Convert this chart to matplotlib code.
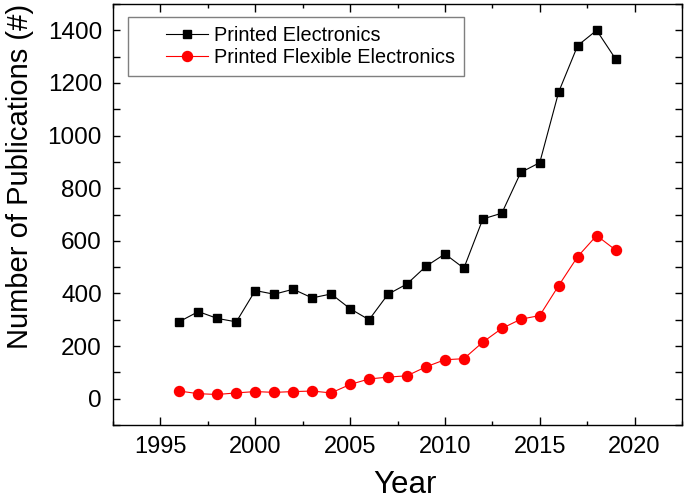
import matplotlib
matplotlib.use("Agg")
import matplotlib.pyplot as plt
from matplotlib.legend_handler import HandlerLine2D
from matplotlib.ticker import MultipleLocator

plt.rcParams["font.family"] = ["Liberation Sans", "DejaVu Sans"]

# ── Data ─────────────────────────────────────────────────────────
years = list(range(1996, 2020))
printed = [293, 331, 305, 292, 411, 397, 416, 383, 398, 342, 300, 397,
           436, 503, 550, 496, 683, 705, 860, 897, 1166, 1342, 1400, 1291]
flexible = [29, 19, 16, 22, 27, 24, 27, 29, 22, 54, 75, 82,
            87, 121, 148, 152, 215, 267, 302, 316, 430, 540, 620, 565]

fig = plt.figure(figsize=(6.85, 5.01), dpi=100, facecolor="white")
ax = fig.add_axes([0.165, 0.1517, 0.8306, 0.8403])

ax.plot(years, printed, "-s", color="black", lw=0.8, ms=6.2,
        label="Printed Electronics")
ax.plot(years, flexible, "-o", color="#FF0000", lw=0.8, ms=7.2,
        label="Printed Flexible Electronics")

ax.set_xlim(1992.5, 2022.5)
ax.set_ylim(-100, 1500)
ax.xaxis.set_major_locator(MultipleLocator(5))
ax.xaxis.set_minor_locator(MultipleLocator(2.5))
ax.yaxis.set_major_locator(MultipleLocator(200))
ax.yaxis.set_minor_locator(MultipleLocator(100))

ax.tick_params(which="both", direction="in", top=True, right=True,
               width=1.0, labeltop=False, labelright=False)
ax.tick_params(axis="x", which="major", length=6, pad=8, labelsize=17)
ax.tick_params(axis="x", which="minor", length=3)
ax.tick_params(axis="y", which="major", length=5, pad=8, labelsize=17.5)
ax.tick_params(axis="y", which="minor", length=5)
for sp in ax.spines.values():
    sp.set_linewidth(1.0)

ax.set_xlabel("Year", fontsize=22.5, va="baseline")
ax.xaxis.set_label_coords(0.513, -0.1615)
ax.set_ylabel("Number of Publications (#)", fontsize=21, va="baseline")
ax.yaxis.set_label_coords(-0.1494, 0.591)

leg = ax.legend(loc="upper left", bbox_to_anchor=(0.026, 0.969),
                borderaxespad=0, fontsize=14.3, fancybox=False,
                edgecolor="#7f7f7f", framealpha=1, borderpad=0.45,
                labelspacing=0.15, handlelength=3.6, handletextpad=0.3,
                handler_map={plt.Line2D: HandlerLine2D(xpad=1.45)})
leg.get_frame().set_linewidth(1.0)

fig.savefig("out.png", dpi=100, facecolor="white")
